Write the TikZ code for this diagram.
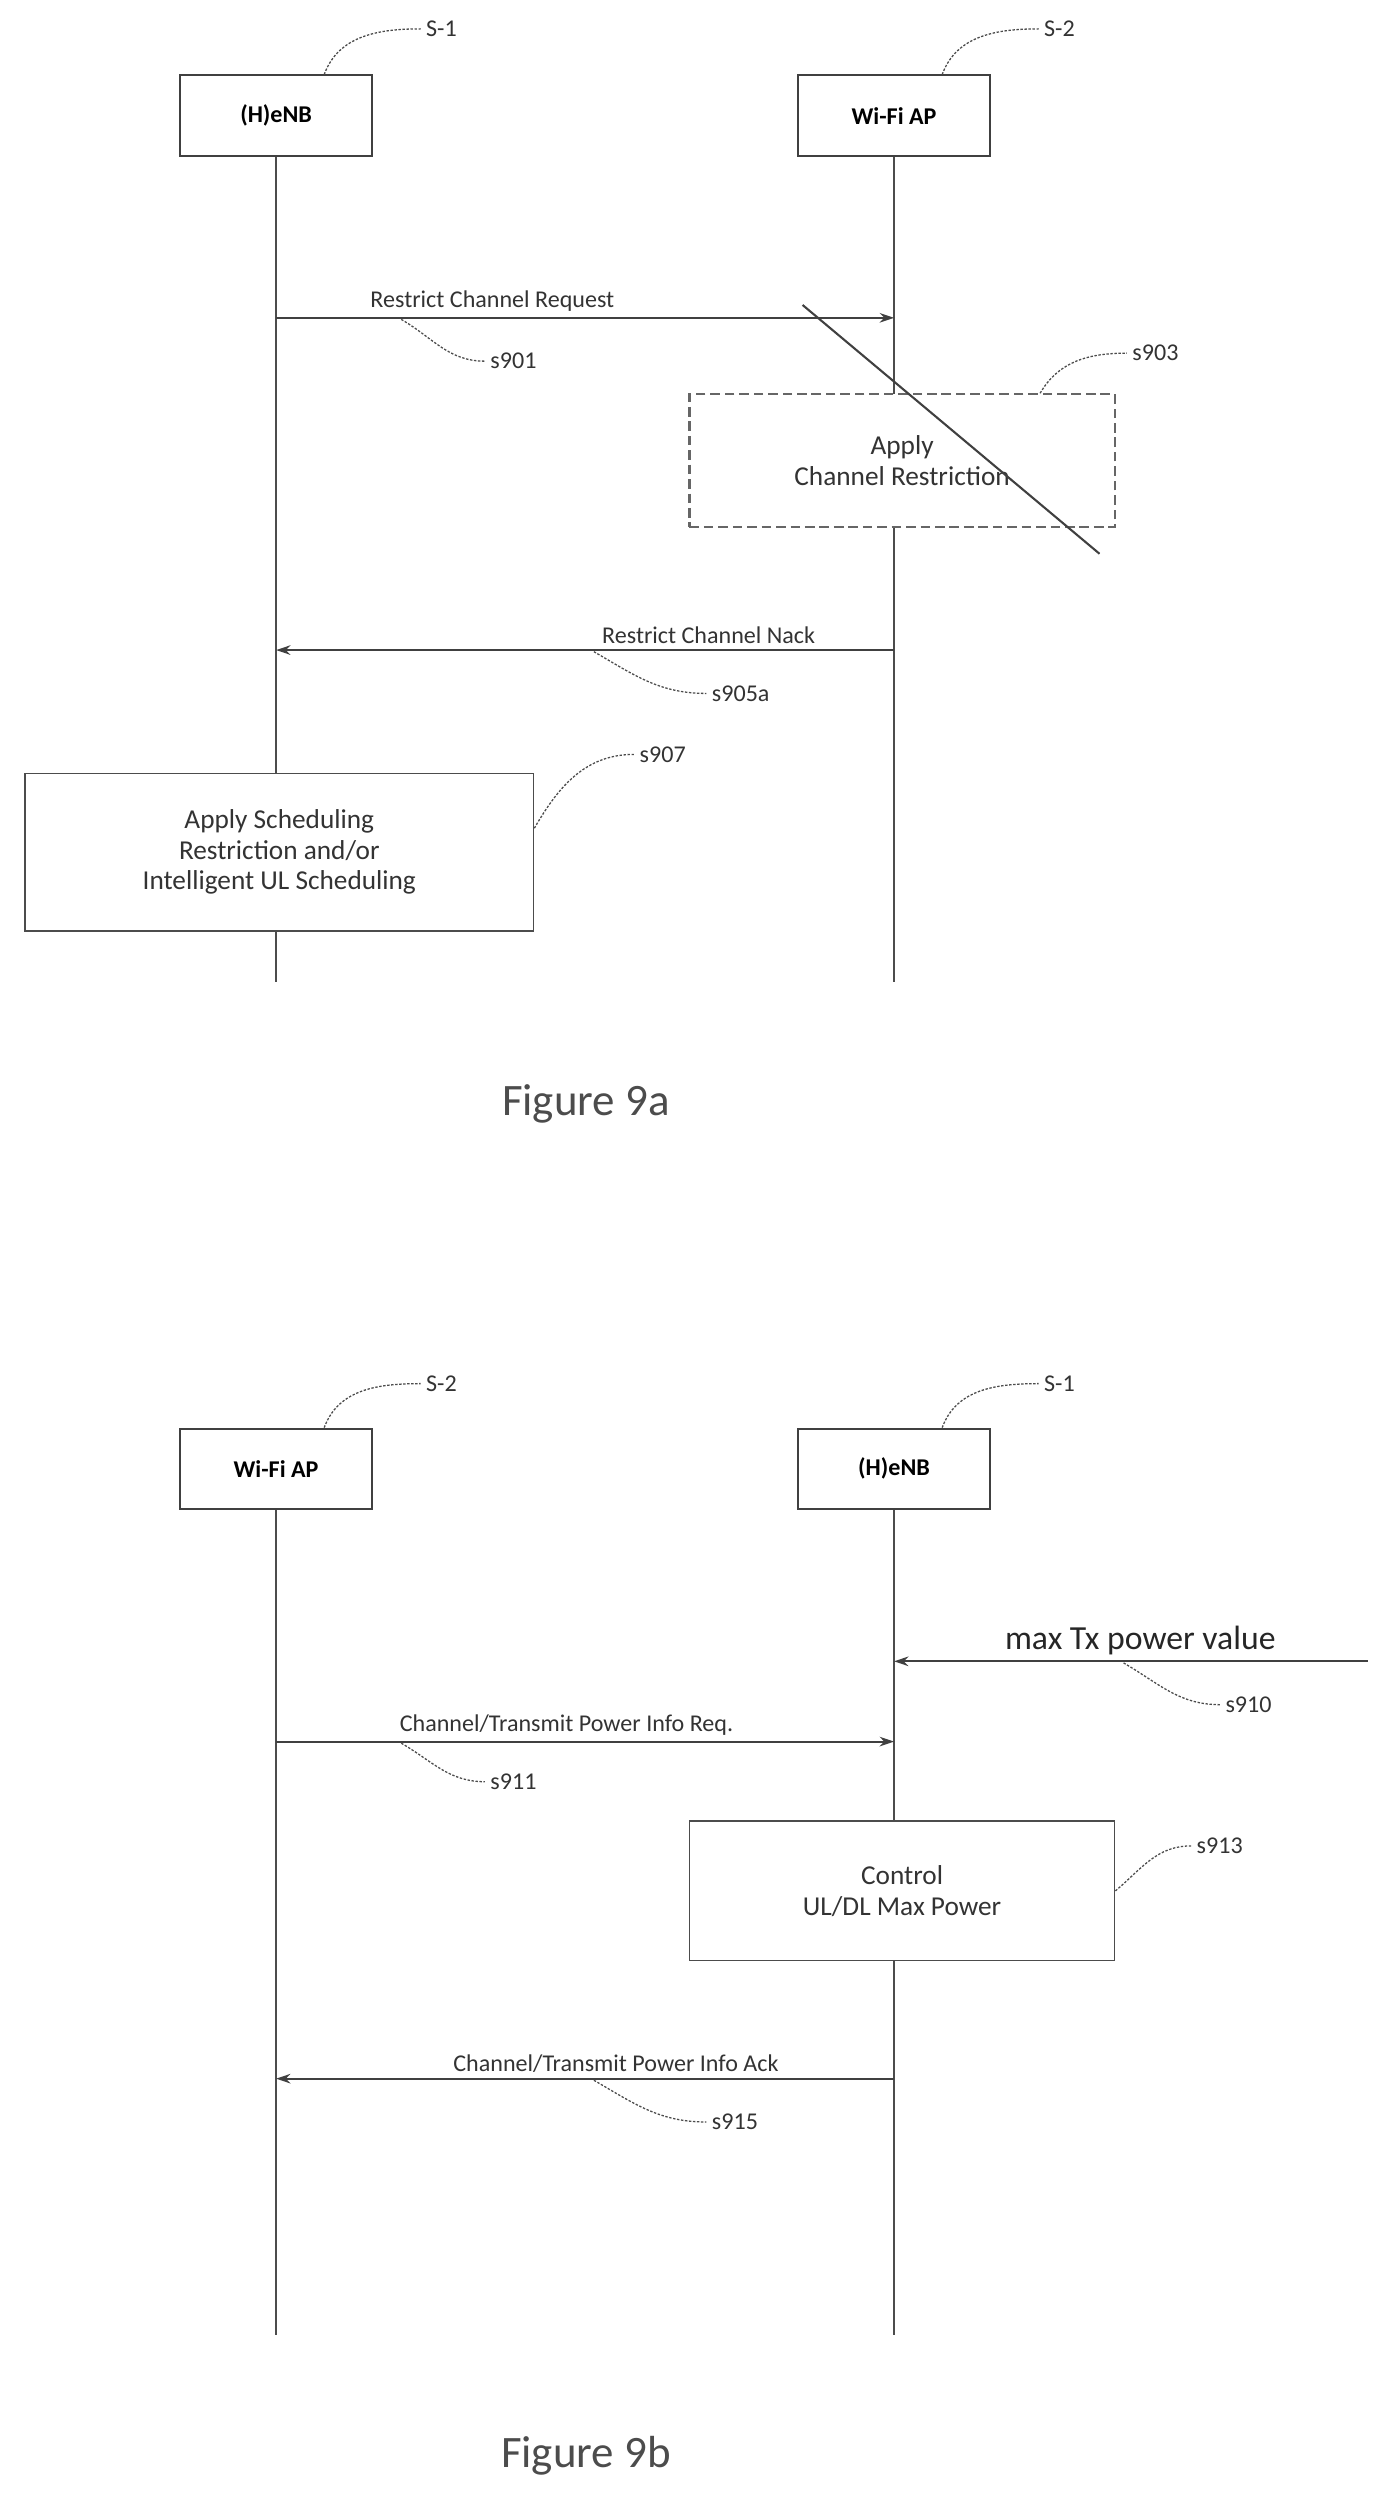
\documentclass[tikz,border=0pt]{standalone}
\usepackage{fontspec}
\setmainfont{Carlito}
\usetikzlibrary{arrows.meta}
\begin{document}
\begin{tikzpicture}[x=1pt,y=-1pt,
  ent/.style={draw=black!75,line width=1.2pt,minimum width=120pt,minimum height=50pt,fill=white,font=\fontsize{15}{17}\selectfont\bfseries},
  life/.style={draw=black!70,line width=0.8pt},
  msg/.style={draw=black!75,line width=1.2pt,-{Stealth[length=9pt,width=6pt]}},
  lbl/.style={font=\fontsize{15}{17}\selectfont,text=black!80},
  ref/.style={font=\fontsize{15}{17}\selectfont,text=black!80,anchor=west},
  sq/.style={draw=black!70,line width=0.8pt,dash pattern=on 1.5pt off 1pt},
  proc/.style={draw=black!70,line width=0.8pt,fill=white,align=center,font=\fontsize{17}{19}\selectfont,text=black!80},
  fig/.style={font=\fontsize{28}{32}\selectfont,text=black!70}]
\useasboundingbox (0,0) rectangle (860,1560);
% ---- Figure 9a
\coordinate (a1e) at (172,612); \coordinate (a2e) at (557,612);
\coordinate (a1t) at (172,97); \coordinate (a2t) at (557,97);
\draw[life] (a1t) -- (a1e); \draw[life] (a2t) -- (a2e);
\node[ent] (a1) at (172,72) {(H)eNB};
\node[ent] (a2) at (557,72) {Wi-Fi AP};
\node[ref] (aS1) at (262,18) {S-1};
\node[ref] (aS2) at (647,18) {S-2};
\draw[sq] (a1.north)++(30,0) coordinate (c1) to[out=70,in=180] (aS1.west);
\draw[sq] (a2.north)++(30,0) coordinate (c2) to[out=70,in=180] (aS2.west);
\coordinate (m1s) at (172,198); \coordinate (m1e) at (557,198);
\draw[msg] (m1s) -- node[lbl,above,pos=0.35] {Restrict Channel Request} (m1e);
\node[ref] (s901) at (302,225) {s901};
\draw[sq] (250,199) coordinate (k1) to[out=-30,in=180] (s901.west);
\node[proc,draw=black!60,dash pattern=on 6pt off 3pt,line width=1.5pt,minimum width=265pt,minimum height=83pt] (p903) at (562,287) {Apply\\Channel Restriction};
\draw[black!75,line width=1.3pt] (500,190) coordinate (x1) -- (685,345) coordinate (x2);
\node[ref] (s903) at (702,220) {s903};
\draw[sq] (648,245) coordinate (k3) to[out=60,in=180] (s903.west);
\coordinate (m2s) at (557,405); \coordinate (m2e) at (172,405);
\draw[msg] (m2s) -- node[lbl,above,pos=0.3] {Restrict Channel Nack} (m2e);
\node[ref] (s905) at (440,432) {s905a};
\draw[sq] (370,406) coordinate (k5) to[out=-30,in=180] (s905.west);
\node[proc,minimum width=317pt,minimum height=98pt] (p907) at (174,531) {Apply Scheduling\\Restriction and/or\\Intelligent UL Scheduling};
\node[ref] (s907) at (395,470) {s907};
\draw[sq] (p907.east) ++(0,-15) coordinate (k7) to[out=60,in=180] (s907.west);
\node[fig] (f9a) at (365,688) {Figure 9a};
% ---- Figure 9b
\coordinate (b1e) at (172,1455); \coordinate (b2e) at (557,1455);
\coordinate (b1t) at (172,940); \coordinate (b2t) at (557,940);
\draw[life] (b1t) -- (b1e); \draw[life] (b2t) -- (b2e);
\node[ent] (b1) at (172,915) {Wi-Fi AP};
\node[ent] (b2) at (557,915) {(H)eNB};
\node[ref] (bS2) at (262,862) {S-2};
\node[ref] (bS1) at (647,862) {S-1};
\draw[sq] (b1.north)++(30,0) coordinate (d1) to[out=70,in=180] (bS2.west);
\draw[sq] (b2.north)++(30,0) coordinate (d2) to[out=70,in=180] (bS1.west);
\coordinate (n0s) at (852,1035); \coordinate (n0e) at (557,1035);
\draw[msg] (n0s) -- node[above,font=\fontsize{21}{24}\selectfont,text=black!85,pos=0.48] {max Tx power value} (n0e);
\node[ref] (s910) at (760,1062) {s910};
\draw[sq] (700,1036) coordinate (k10) to[out=-30,in=180] (s910.west);
\coordinate (n1s) at (172,1085); \coordinate (n1e) at (557,1085);
\draw[msg] (n1s) -- node[lbl,above,pos=0.47] {Channel/Transmit Power Info Req.} (n1e);
\node[ref] (s911) at (302,1110) {s911};
\draw[sq] (250,1086) coordinate (k11) to[out=-30,in=180] (s911.west);
\node[proc,minimum width=265pt,minimum height=87pt] (p913) at (562,1178) {Control\\UL/DL Max Power};
\node[ref] (s913) at (742,1150) {s913};
\draw[sq] (p913.east) coordinate (k13) to[out=40,in=180] (s913.west);
\coordinate (n2s) at (557,1295); \coordinate (n2e) at (172,1295);
\draw[msg] (n2s) -- node[lbl,above,pos=0.45] {Channel/Transmit Power Info Ack} (n2e);
\node[ref] (s915) at (440,1322) {s915};
\draw[sq] (370,1296) coordinate (k15) to[out=-30,in=180] (s915.west);
\node[fig] (f9b) at (365,1530) {Figure 9b};
\end{tikzpicture}
\end{document}
